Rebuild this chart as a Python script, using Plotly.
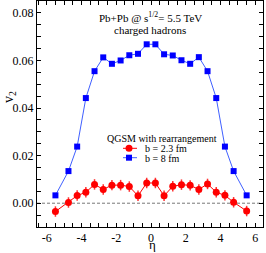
import plotly.graph_objects as go

eta = [-5.5, -4.75, -4.25, -3.75, -3.25, -2.75, -2.25, -1.75, -1.25, -0.75, -0.25,
       0.25, 0.75, 1.25, 1.75, 2.25, 2.75, 3.25, 3.75, 4.25, 4.75, 5.5]
v2_b23 = [-0.0035, 0.0003, 0.0032, 0.0046, 0.0079, 0.0058, 0.0076, 0.0076, 0.0070, 0.0031, 0.0085,
          0.0085, 0.0031, 0.0071, 0.0078, 0.0075, 0.0058, 0.0081, 0.0046, 0.0033, 0.0004, -0.0033]
err_b23 = [0.0022] * 22
v2_b8 = [0.0033, 0.0135, 0.0238, 0.0442, 0.0555, 0.0613, 0.0586, 0.0600, 0.0622, 0.0628, 0.0668,
         0.0668, 0.0626, 0.0621, 0.0601, 0.0586, 0.0614, 0.0555, 0.0442, 0.0238, 0.0135, 0.0033]

x_range = [-6.56, 6.44]
y_range = [-0.01, 0.085]
x_tickvals = [-6.5, -6, -5.5, -5, -4.5, -4, -3.5, -3, -2.5, -2, -1.5, -1, -0.5, 0,
              0.5, 1, 1.5, 2, 2.5, 3, 3.5, 4, 4.5, 5, 5.5, 6]
x_ticktext = ["", "-6", "", "", "", "-4", "", "", "", "-2", "", "", "", "0",
              "", "", "", "2", "", "", "", "4", "", "", "", "6"]
y_tickvals = [-0.005, 0, 0.005, 0.01, 0.015, 0.02, 0.025, 0.03, 0.035, 0.04, 0.045,
              0.05, 0.055, 0.06, 0.065, 0.07, 0.075, 0.08]
y_ticktext = ["", "0.00", "", "", "", "0.02", "", "", "", "0.04", "",
              "", "", "0.06", "", "", "", "0.08"]
zero_level = [0, 0]

FONT = "Liberation Serif"
RED = "#ff0000"
BLUE = "#0000ff"
BLUE_LINE = "#4060ff"

W, H = 266, 253
L, R, T, B = 37, 3, 1, 26
pw, ph = W - L - R, H - T - B


def px(x):
    return (x - L) / pw


def py(y):
    return (H - B - y) / ph


def dx(p):
    return x_range[0] + px(p) * (x_range[1] - x_range[0])


def dy(p):
    return y_range[0] + py(p) * (y_range[1] - y_range[0])


fig = go.Figure()
# dashed zero reference line
fig.add_trace(go.Scatter(x=x_range, y=zero_level, mode="lines", hoverinfo="skip",
                         line=dict(color="#777777", width=1, dash="3px,2px")))
fig.add_trace(go.Scatter(
    x=eta, y=v2_b8, mode="lines+markers", name="b = 8 fm",
    line=dict(color=BLUE_LINE, width=1),
    marker=dict(symbol="square", size=6, color=BLUE),
))
fig.add_trace(go.Scatter(
    x=eta, y=v2_b23, mode="lines+markers", name="b = 2.3 fm",
    line=dict(color=RED, width=1),
    marker=dict(symbol="circle", size=7, color=RED),
    error_y=dict(type="data", array=err_b23, color="#ff3333", thickness=1.5, width=0),
))

# legend key symbols
fig.add_trace(go.Scatter(x=[dx(123), dx(137)], y=[dy(148.3)] * 2, mode="lines",
                         line=dict(color=RED, width=1), hoverinfo="skip"))
fig.add_trace(go.Scatter(x=[dx(129)], y=[dy(148.3)], mode="markers",
                         marker=dict(symbol="circle", size=7, color=RED), hoverinfo="skip"))
fig.add_trace(go.Scatter(x=[dx(123), dx(137)], y=[dy(157.7)] * 2, mode="lines",
                         line=dict(color=BLUE_LINE, width=1), hoverinfo="skip"))
fig.add_trace(go.Scatter(x=[dx(129)], y=[dy(157.7)], mode="markers",
                         marker=dict(symbol="square", size=6, color=BLUE), hoverinfo="skip"))


def note(x, y, text, size, anchor="left", angle=0):
    fig.add_annotation(x=px(x), y=py(y), xref="paper", yref="paper", text=text, showarrow=False,
                       xanchor=anchor, yanchor="middle", textangle=angle,
                       font=dict(family=FONT, size=size, color="black"))


note(105, 138, "QGSM with rearrangement", 10)
note(143, 148.5, "b = 2.3 fm", 10)
note(143, 158, "b = 8 fm", 10)
note(150.3, 17, "Pb+Pb @ s<sup>1/2</sup>= 5.5 TeV", 11, anchor="center")
note(150.3, 30, "charged hadrons", 11, anchor="center")
note(152, 245, "η", 13, anchor="center")
note(9, 97, "v<sub>2</sub>", 14, anchor="center", angle=-90)

axis_common = dict(
    showline=True, linecolor="black", linewidth=1, mirror="allticks",
    ticks="inside", ticklen=4, tickcolor="black", tickwidth=1,
    showgrid=False, zeroline=False, automargin=False,
    tickfont=dict(family=FONT, size=12, color="black"),
)

fig.update_xaxes(range=x_range, tickmode="array", tickvals=x_tickvals, ticktext=x_ticktext, **axis_common)
fig.update_yaxes(range=y_range, tickmode="array", tickvals=y_tickvals, ticktext=y_ticktext, **axis_common)

fig.update_layout(
    width=W, height=H, margin=dict(l=L, r=R, t=T, b=B, autoexpand=False),
    paper_bgcolor="white", plot_bgcolor="white", showlegend=False,
    font=dict(family=FONT, color="black"),
)

fig.write_html("out.html", config={"displayModeBar": False},
               post_script="document.body.style.margin='0';")
